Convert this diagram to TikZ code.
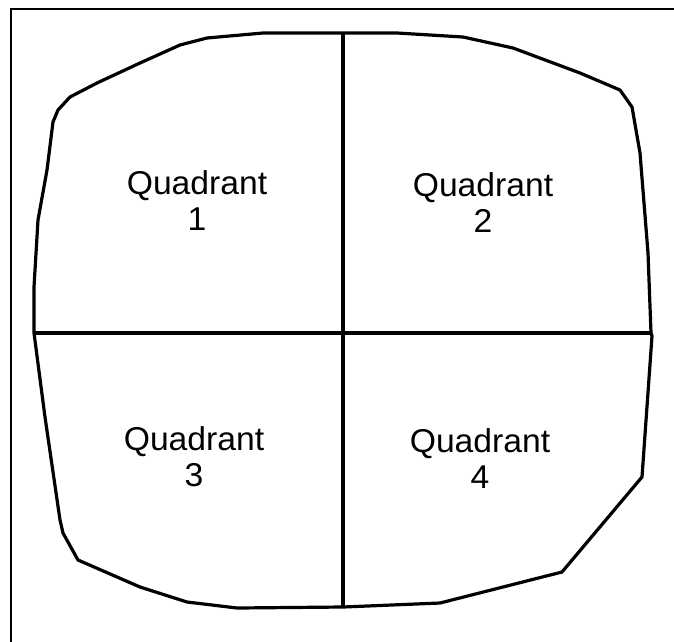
\documentclass[tikz,border=0pt]{standalone}
\usepackage{fontspec}
\setmainfont{Liberation Sans}

\tikzset{
    outline/.style={line width=3.2pt, line join=round},
    qlabel/.style={align=center, anchor=base, xscale=1.02,
        font=\fontsize{33}{36}\selectfont}
}

\begin{document}
\begin{tikzpicture}[x=1pt, y=-1pt]
        \useasboundingbox (0,0) rectangle (674,641);

        % Рамка.
        \draw[line width=2pt] (11,9) rectangle (680,650);

        % Контур.
        \draw[outline]
            (343,33) -- (397,33) -- (463,37) -- (513,48) -- (580,73)
            -- (620,90) -- (632,107) -- (640,153) -- (648,253) -- (651,333)
            -- (652,336) -- (642,477) -- (562,572) -- (440,603) -- (343,607)
            -- (237,608) -- (187,602) -- (140,587) -- (78,560) -- (63,533)
            -- (60,520) -- (45,417) -- (34,333) -- (34,287) -- (38,220)
            -- (47,170) -- (53,122) -- (58,110) -- (70,97) -- (97,83)
            -- (140,63) -- (180,45) -- (207,38) -- (263,33) -- cycle;

        % Деление на квадранты.
        \coordinate (top) at (343,33);
        \coordinate (bottom) at (343,607);
        \coordinate (left) at (34,333);
        \coordinate (right) at (651,333);
        \draw[outline] (top) -- (bottom);
        \draw[outline] (left) -- (right);

        \node[qlabel] (q1) at (197,230) {Quadrant\\1};
        \node[qlabel] (q2) at (483,232) {Quadrant\\2};
        \node[qlabel] (q3) at (194,486) {Quadrant\\3};
        \node[qlabel] (q4) at (480,488) {Quadrant\\4};
    \end{tikzpicture}
\end{document}
